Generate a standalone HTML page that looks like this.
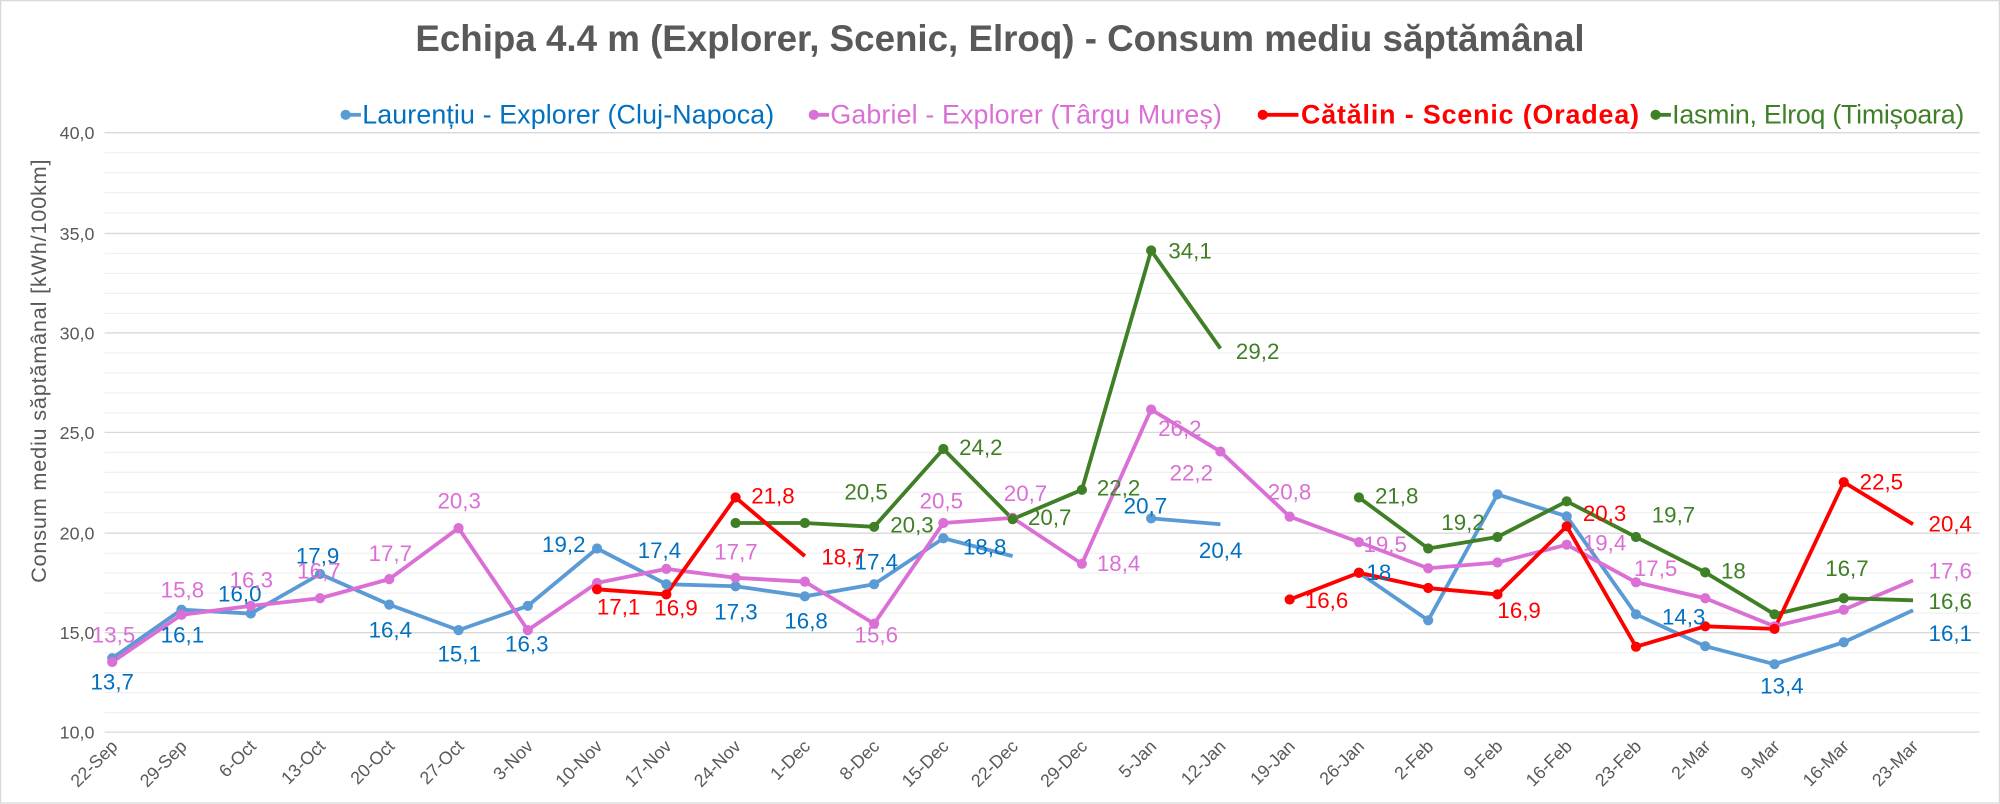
<!DOCTYPE html>
<html><head><meta charset="utf-8"><style>
html,body{margin:0;padding:0;background:#fff}
svg{display:block}
text{font-family:"Liberation Sans",Arial,sans-serif}
.t{font-size:14px;fill:#595959}
.l{font-size:17.5px;text-anchor:middle;dominant-baseline:middle}
.b{fill:#0070C0}.p{fill:#DA70D6}.r{fill:#FF0000}.g{fill:#3F7F25}
</style></head><body>
<svg width="2000" height="804" viewBox="0 0 1568 630.3" xmlns="http://www.w3.org/2000/svg">
<rect x="0.5" y="0.5" width="1567" height="629" fill="#fff" stroke="#d9d9d9"/>
<text x="784" y="40" text-anchor="middle" font-size="28.8" font-weight="bold" fill="#595959">Echipa 4.4 m (Explorer, Scenic, Elroq) - Consum mediu săptămânal</text>
<!-- legend -->
<g font-size="21">
<line x1="271" y1="90" x2="283" y2="90" stroke="#5B9BD5" stroke-width="3"/><circle cx="271" cy="90" r="4" fill="#5B9BD5"/>
<text x="284" y="97" fill="#0070C0" textLength="323">Laurențiu - Explorer (Cluj-Napoca)</text>
<line x1="638" y1="90" x2="650" y2="90" stroke="#DA70D6" stroke-width="3"/><circle cx="638" cy="90" r="4" fill="#DA70D6"/>
<text x="651" y="97" fill="#DA70D6" textLength="307">Gabriel - Explorer (Târgu Mureș)</text>
<line x1="990" y1="90" x2="1018" y2="90" stroke="#FF0000" stroke-width="3"/><circle cx="990" cy="90" r="4" fill="#FF0000"/>
<text x="1020" y="97" fill="#FF0000" font-weight="bold" textLength="265">Cătălin - Scenic (Oradea)</text>
<line x1="1298" y1="90" x2="1310" y2="90" stroke="#3F7F25" stroke-width="3"/><circle cx="1298" cy="90" r="4" fill="#3F7F25"/>
<text x="1311" y="97" fill="#3F7F25" textLength="229">Iasmin, Elroq (Timișoara)</text>
</g>
<!-- grid -->
<g stroke="#f0f0f0" stroke-width="1">
<line x1="82" x2="1552" y1="119.7" y2="119.7"/><line x1="82" x2="1552" y1="135.3" y2="135.3"/><line x1="82" x2="1552" y1="151" y2="151"/><line x1="82" x2="1552" y1="167" y2="167"/>
<line x1="82" x2="1552" y1="198.7" y2="198.7"/><line x1="82" x2="1552" y1="214.3" y2="214.3"/><line x1="82" x2="1552" y1="230" y2="230"/><line x1="82" x2="1552" y1="245.7" y2="245.7"/>
<line x1="82" x2="1552" y1="276.7" y2="276.7"/><line x1="82" x2="1552" y1="292.3" y2="292.3"/><line x1="82" x2="1552" y1="308" y2="308"/><line x1="82" x2="1552" y1="323.7" y2="323.7"/>
<line x1="82" x2="1552" y1="354.7" y2="354.7"/><line x1="82" x2="1552" y1="370.3" y2="370.3"/><line x1="82" x2="1552" y1="386" y2="386"/><line x1="82" x2="1552" y1="402" y2="402"/>
<line x1="82" x2="1552" y1="433.7" y2="433.7"/><line x1="82" x2="1552" y1="449.3" y2="449.3"/><line x1="82" x2="1552" y1="465" y2="465"/><line x1="82" x2="1552" y1="480.7" y2="480.7"/>
<line x1="82" x2="1552" y1="511.7" y2="511.7"/><line x1="82" x2="1552" y1="527.3" y2="527.3"/><line x1="82" x2="1552" y1="543" y2="543"/><line x1="82" x2="1552" y1="558.7" y2="558.7"/>
</g>
<g stroke="#d9d9d9" stroke-width="1">
<line x1="82" x2="1552" y1="104" y2="104"/><line x1="82" x2="1552" y1="183" y2="183"/><line x1="82" x2="1552" y1="261" y2="261"/><line x1="82" x2="1552" y1="339" y2="339"/><line x1="82" x2="1552" y1="418" y2="418"/><line x1="82" x2="1552" y1="496" y2="496"/><line x1="82" x2="1552" y1="574" y2="574"/>
</g>
<g class="t" text-anchor="end">
<text x="74" y="109">40,0</text><text x="74" y="188">35,0</text><text x="74" y="266">30,0</text><text x="74" y="344">25,0</text><text x="74" y="423">20,0</text><text x="74" y="501">15,0</text><text x="74" y="579">10,0</text>
</g>
<text transform="translate(36,291) rotate(-90)" text-anchor="middle" font-size="17" fill="#595959" textLength="332">Consum mediu săptămânal [kWh/100km]</text>
<g class="t" text-anchor="end">
<text transform="translate(93,586) rotate(-45)">22-Sep</text>
<text transform="translate(147.3,586) rotate(-45)">29-Sep</text>
<text transform="translate(201.6,586) rotate(-45)">6-Oct</text>
<text transform="translate(255.9,586) rotate(-45)">13-Oct</text>
<text transform="translate(310.2,586) rotate(-45)">20-Oct</text>
<text transform="translate(364.5,586) rotate(-45)">27-Oct</text>
<text transform="translate(418.8,586) rotate(-45)">3-Nov</text>
<text transform="translate(473.1,586) rotate(-45)">10-Nov</text>
<text transform="translate(527.4,586) rotate(-45)">17-Nov</text>
<text transform="translate(581.7,586) rotate(-45)">24-Nov</text>
<text transform="translate(636,586) rotate(-45)">1-Dec</text>
<text transform="translate(690.3,586) rotate(-45)">8-Dec</text>
<text transform="translate(744.6,586) rotate(-45)">15-Dec</text>
<text transform="translate(798.9,586) rotate(-45)">22-Dec</text>
<text transform="translate(853.2,586) rotate(-45)">29-Dec</text>
<text transform="translate(907.5,586) rotate(-45)">5-Jan</text>
<text transform="translate(961.8,586) rotate(-45)">12-Jan</text>
<text transform="translate(1016.1,586) rotate(-45)">19-Jan</text>
<text transform="translate(1070.4,586) rotate(-45)">26-Jan</text>
<text transform="translate(1124.7,586) rotate(-45)">2-Feb</text>
<text transform="translate(1179,586) rotate(-45)">9-Feb</text>
<text transform="translate(1233.3,586) rotate(-45)">16-Feb</text>
<text transform="translate(1287.6,586) rotate(-45)">23-Feb</text>
<text transform="translate(1341.9,586) rotate(-45)">2-Mar</text>
<text transform="translate(1396.2,586) rotate(-45)">9-Mar</text>
<text transform="translate(1450.5,586) rotate(-45)">16-Mar</text>
<text transform="translate(1504.8,586) rotate(-45)">23-Mar</text>
</g>
<!-- series lines -->
<g fill="none" stroke-width="3" stroke-linejoin="round">
<polyline stroke="#5B9BD5" points="88,516 142.3,478 196.6,481 250.9,450 305.2,474 359.5,494 413.8,475 468.1,430 522.4,458 576.7,459.6 631,467.5 685.3,458 739.6,422 793.9,436"/>
<polyline stroke="#5B9BD5" points="902.5,406.4 956.8,411"/>
<polyline stroke="#5B9BD5" points="1065.4,449 1119.7,486.3 1174,387.6 1228.3,404.8 1282.6,481.6 1336.9,506.6 1391.2,520.7 1445.5,503.5 1499.8,478.4"/>
<polyline stroke="#DA70D6" points="88,519 142.3,482 196.6,475 250.9,469 305.2,454 359.5,414 413.8,494 468.1,457 522.4,446 576.7,453 631,456 685.3,489 739.6,410 793.9,406 848.2,442 902.5,321 956.8,354 1011.1,405 1065.4,425 1119.7,445.5 1174,441 1228.3,427 1282.6,456.5 1336.9,469 1391.2,491 1445.5,478 1499.8,455"/>
<polyline stroke="#3F7F25" points="576.7,410 631,410 685.3,413 739.6,352 793.9,407 848.2,384 902.5,196.4 956.8,273.2"/>
<polyline stroke="#3F7F25" points="1065.4,390 1119.7,430 1174,421 1228.3,393 1282.6,421 1336.9,448.7 1391.2,481.6 1445.5,469 1499.8,470.6"/>
<polyline stroke="#FF0000" points="468.1,462 522.4,466 576.7,390 631,436"/>
<polyline stroke="#FF0000" points="1011.1,470 1065.4,449 1119.7,461 1174,466 1228.3,412.6 1282.6,507 1336.9,491 1391.2,493 1445.5,378 1499.8,411"/>
</g>
<g fill="#5B9BD5">
<circle cx="88" cy="516" r="4"/><circle cx="142.3" cy="478" r="4"/><circle cx="196.6" cy="481" r="4"/><circle cx="250.9" cy="450" r="4"/><circle cx="305.2" cy="474" r="4"/><circle cx="359.5" cy="494" r="4"/><circle cx="413.8" cy="475" r="4"/><circle cx="468.1" cy="430" r="4"/><circle cx="522.4" cy="458" r="4"/><circle cx="576.7" cy="459.6" r="4"/><circle cx="631" cy="467.5" r="4"/><circle cx="685.3" cy="458" r="4"/><circle cx="739.6" cy="422" r="4"/><circle cx="902.5" cy="406.4" r="4"/><circle cx="1065.4" cy="449" r="4"/><circle cx="1119.7" cy="486.3" r="4"/><circle cx="1174" cy="387.6" r="4"/><circle cx="1228.3" cy="404.8" r="4"/><circle cx="1282.6" cy="481.6" r="4"/><circle cx="1336.9" cy="506.6" r="4"/><circle cx="1391.2" cy="520.7" r="4"/><circle cx="1445.5" cy="503.5" r="4"/>
</g>
<g fill="#DA70D6">
<circle cx="88" cy="519" r="4"/><circle cx="142.3" cy="482" r="4"/><circle cx="196.6" cy="475" r="4"/><circle cx="250.9" cy="469" r="4"/><circle cx="305.2" cy="454" r="4"/><circle cx="359.5" cy="414" r="4"/><circle cx="413.8" cy="494" r="4"/><circle cx="468.1" cy="457" r="4"/><circle cx="522.4" cy="446" r="4"/><circle cx="576.7" cy="453" r="4"/><circle cx="631" cy="456" r="4"/><circle cx="685.3" cy="489" r="4"/><circle cx="739.6" cy="410" r="4"/><circle cx="793.9" cy="406" r="4"/><circle cx="848.2" cy="442" r="4"/><circle cx="902.5" cy="321" r="4"/><circle cx="956.8" cy="354" r="4"/><circle cx="1011.1" cy="405" r="4"/><circle cx="1065.4" cy="425" r="4"/><circle cx="1119.7" cy="445.5" r="4"/><circle cx="1174" cy="441" r="4"/><circle cx="1228.3" cy="427" r="4"/><circle cx="1282.6" cy="456.5" r="4"/><circle cx="1336.9" cy="469" r="4"/><circle cx="1391.2" cy="491" r="4"/><circle cx="1445.5" cy="478" r="4"/>
</g>
<g fill="#3F7F25">
<circle cx="576.7" cy="410" r="4"/><circle cx="631" cy="410" r="4"/><circle cx="685.3" cy="413" r="4"/><circle cx="739.6" cy="352" r="4"/><circle cx="793.9" cy="407" r="4"/><circle cx="848.2" cy="384" r="4"/><circle cx="902.5" cy="196.4" r="4"/><circle cx="1065.4" cy="390" r="4"/><circle cx="1119.7" cy="430" r="4"/><circle cx="1174" cy="421" r="4"/><circle cx="1228.3" cy="393" r="4"/><circle cx="1282.6" cy="421" r="4"/><circle cx="1336.9" cy="448.7" r="4"/><circle cx="1391.2" cy="481.6" r="4"/><circle cx="1445.5" cy="469" r="4"/>
</g>
<g fill="#FF0000">
<circle cx="468.1" cy="462" r="4"/><circle cx="522.4" cy="466" r="4"/><circle cx="576.7" cy="390" r="4"/><circle cx="1011.1" cy="470" r="4"/><circle cx="1065.4" cy="449" r="4"/><circle cx="1119.7" cy="461" r="4"/><circle cx="1174" cy="466" r="4"/><circle cx="1228.3" cy="412.6" r="4"/><circle cx="1282.6" cy="507" r="4"/><circle cx="1336.9" cy="491" r="4"/><circle cx="1391.2" cy="493" r="4"/><circle cx="1445.5" cy="378" r="4"/>
</g>
<!-- labels -->
<g class="l">
<g class="b">
<text x="88" y="536">13,7</text><text x="143" y="499">16,1</text><text x="188" y="467">16,0</text><text x="249" y="437">17,9</text><text x="306" y="495">16,4</text><text x="360" y="514">15,1</text><text x="413" y="506">16,3</text><text x="442" y="428">19,2</text><text x="517" y="433">17,4</text><text x="577" y="481">17,3</text><text x="632" y="488">16,8</text><text x="687" y="442">17,4</text><text x="772" y="430">18,8</text><text x="898" y="398">20,7</text><text x="957" y="433">20,4</text><text x="1081" y="450">18</text><text x="1320" y="485">14,3</text><text x="1397" y="539">13,4</text><text x="1529" y="498">16,1</text>
</g>
<g class="p">
<text x="89" y="499">13,5</text><text x="143" y="464">15,8</text><text x="197" y="456">16,3</text><text x="250" y="449">16,7</text><text x="306" y="435">17,7</text><text x="360" y="394">20,3</text><text x="577" y="434">17,7</text><text x="687" y="499">15,6</text><text x="738" y="394">20,5</text><text x="804" y="388">20,7</text><text x="877" y="443">18,4</text><text x="925" y="337">26,2</text><text x="934" y="372">22,2</text><text x="1011" y="387">20,8</text><text x="1086" y="428">19,5</text><text x="1258" y="427">19,4</text><text x="1298" y="447">17,5</text><text x="1529" y="449">17,6</text>
</g>
<g class="r">
<text x="485" y="477">17,1</text><text x="530" y="478">16,9</text><text x="606" y="390">21,8</text><text x="661" y="438">18,7</text><text x="1040" y="472">16,6</text><text x="1191" y="480">16,9</text><text x="1258" y="404">20,3</text><text x="1475" y="379">22,5</text><text x="1529" y="412">20,4</text>
</g>
<g class="g">
<text x="679" y="387">20,5</text><text x="715" y="413">20,3</text><text x="769" y="352">24,2</text><text x="823" y="407">20,7</text><text x="877" y="384">22,2</text><text x="933" y="198">34,1</text><text x="986" y="277">29,2</text><text x="1095" y="390">21,8</text><text x="1147" y="411">19,2</text><text x="1312" y="405">19,7</text><text x="1359" y="449">18</text><text x="1448" y="447">16,7</text><text x="1529" y="473">16,6</text>
</g>
</g>
</svg>
</body></html>
